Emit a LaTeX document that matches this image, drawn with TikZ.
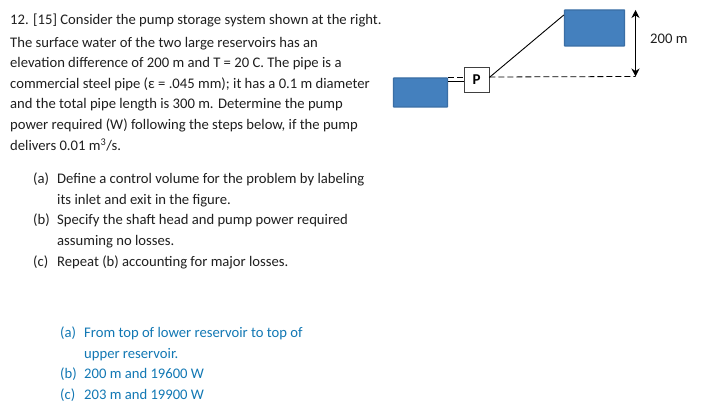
\documentclass[tikz,border=0pt]{standalone}
\usepackage{fontspec}
\setmainfont{Carlito}
\usetikzlibrary{arrows.meta}
\definecolor{resfill}{HTML}{4480BE}
\definecolor{resedge}{HTML}{3A6EA5}
\definecolor{anscol}{HTML}{1278B4}
\newcommand{\lbl}[1]{\makebox[24pt][l]{#1}}
\tikzset{
  txt/.style={anchor=base west,inner sep=0pt,font=\fontsize{14.65}{16}\selectfont,text=black!88},
  ans/.style={txt,text=anscol},
  reservoir/.style={draw=resedge,line width=1.4pt,fill=resfill,rounded corners=0.5pt,inner sep=0pt},
  pump/.style={draw=black!75,line width=0.6pt,fill=white,minimum width=25pt,minimum height=25pt,inner sep=0pt,font=\fontsize{15}{15}\selectfont\bfseries},
  pipe/.style={draw=black,line width=0.9pt},
  level/.style={draw=black,line width=0.8pt,dash pattern=on 6pt off 3pt},
  dim/.style={draw=black,line width=0.9pt,{Stealth[length=8pt,width=8pt]}-{Stealth[length=8pt,width=8pt]}}
}
\begin{document}
\begin{tikzpicture}[x=1pt,y=-1pt]
\useasboundingbox (0,0) rectangle (704,411);
\fill[white] (0,0) rectangle (704,411);
% question text
\node[txt] (q1) at (10,24.5) {12. [15] Consider the pump storage system shown at the right.};
\node[txt] (q2) at (10,48) {The surface water of the two large reservoirs has an};
\node[txt] (q3) at (10,68) {elevation difference of 200 m and T = 20 C. The pipe is a};
\node[txt] (q4) at (10,88.5) {commercial steel pipe (ε = .045 mm); it has a 0.1 m diameter};
\node[txt] (q5) at (10,109) {and the total pipe length is 300 m. Determine the pump};
\node[txt] (q6) at (10,129.5) {power required (W) following the steps below, if the pump};
\node[txt] (q7) at (10,150.5) {delivers 0.01 m\textsuperscript{3}/s.};
% parts
\node[txt] (a1) at (33,183.5) {\lbl{(a)}Define a control volume for the problem by labeling};
\node[txt] (a2) at (57,204.5) {its inlet and exit in the figure.};
\node[txt] (b1) at (33,225) {\lbl{(b)}Specify the shaft head and pump power required};
\node[txt] (b2) at (57,246) {assuming no losses.};
\node[txt] (c1) at (33,266.5) {\lbl{(c)}Repeat (b) accounting for major losses.};
% answers
\node[ans] (r1) at (60,338) {\lbl{(a)}From top of lower reservoir to top of};
\node[ans] (r2) at (84,358.5) {upper reservoir.};
\node[ans] (r3) at (60,379) {\lbl{(b)}200 m and 19600 W};
\node[ans] (r4) at (60,399.5) {\lbl{(c)}203 m and 19900 W};
% figure
\node[reservoir,minimum width=54pt,minimum height=29pt] (lower) at (420.5,92.5) {};
\node[reservoir,minimum width=60pt,minimum height=36pt] (upper) at (594.5,28) {};
\node[pump] (p) at (476.5,79.5) {P};
\coordinate (lvl) at (635.5,76.5);
\coordinate (top) at (635.5,10);
\draw[level] (lower.north east) -- (p.west |- lower.north);
\draw[pipe] (lower.east |- 0,81) -- (p.west |- 0,81);
\draw[pipe] (p.east |- 0,77.5) -- (upper.west |- 0,15);
\draw[level] (p.east |- 0,77) -- (lvl);
\draw[dim] (top) -- (lvl);
\node[txt] (h) at (650,43.5) {200 m};
\end{tikzpicture}
\end{document}
